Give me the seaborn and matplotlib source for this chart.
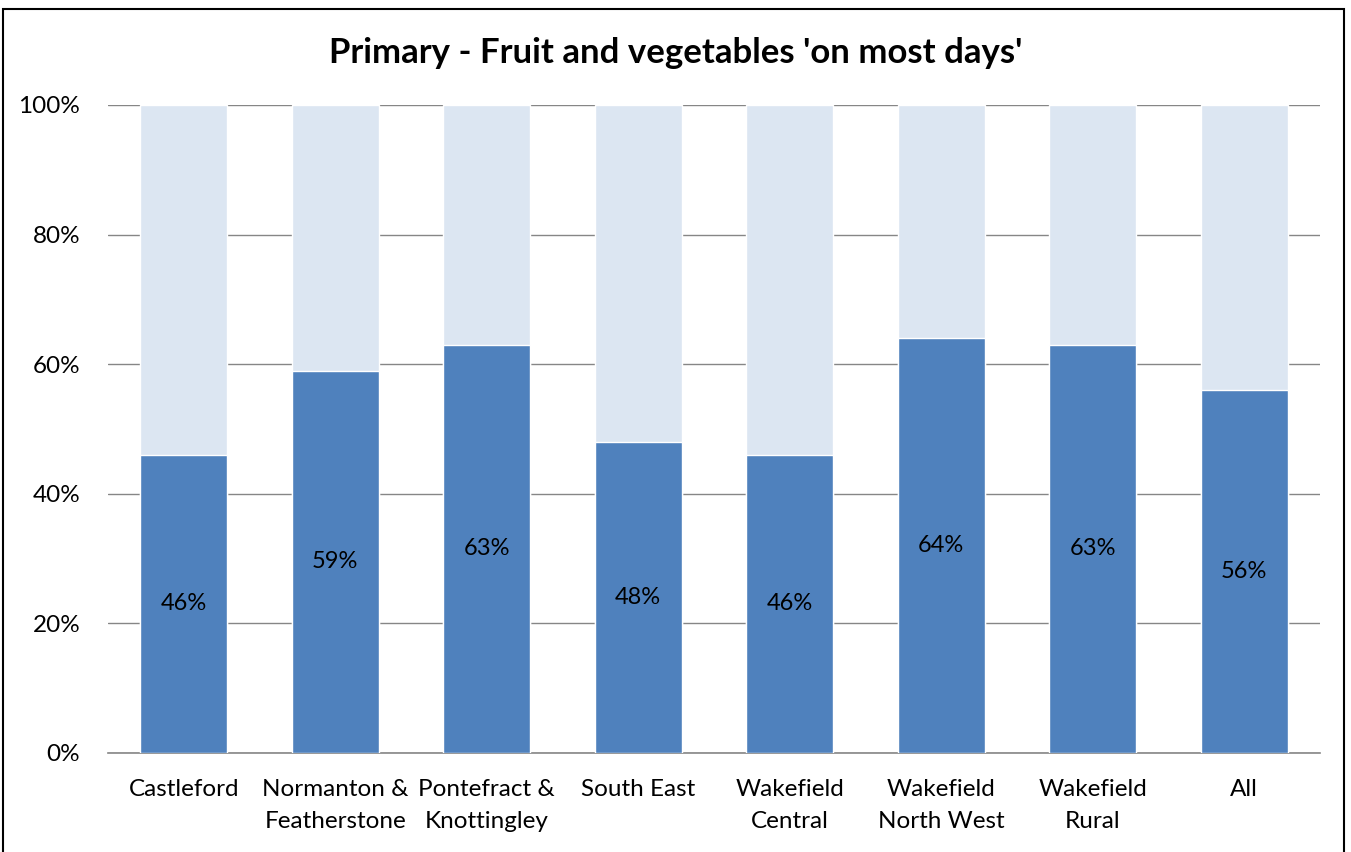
import matplotlib
matplotlib.use("Agg")
import matplotlib.pyplot as plt
import seaborn as sns
import pandas as pd
from matplotlib.patches import Rectangle
from matplotlib.ticker import PercentFormatter

# --- Data ---
areas = ["Castleford", "Normanton &\nFeatherstone", "Pontefract &\nKnottingley",
         "South East", "Wakefield\nCentral", "Wakefield\nNorth West",
         "Wakefield\nRural", "All"]
most_days = [46, 59, 63, 48, 46, 64, 63, 56]
total = [100, 100, 100, 100, 100, 100, 100, 100]

df = pd.DataFrame({"area": areas, "most_days": most_days, "total": total})

sns.set_theme(style="white")
plt.rcParams["font.family"] = ["Lato", "DejaVu Sans"]
plt.rcParams["text.color"] = "black"

fig = plt.figure(figsize=(13.51, 8.52), dpi=100)
ax = fig.add_axes([0.0799, 0.1162, 0.8971, 0.7606])

# background (remainder) then the 'on most days' share
sns.barplot(data=df, x="area", y="total", color="#DCE6F2", saturation=1,
            width=0.575, ax=ax, zorder=2)
sns.barplot(data=df, x="area", y="most_days", color="#4F81BD", saturation=1,
            width=0.575, ax=ax, zorder=3)

for i, v in enumerate(most_days):
    ax.text(i, v / 2, f"{v}%", ha="center", va="center", fontsize=17, color="black", zorder=4)

ax.set_ylim(0, 100)
ax.set_xlim(-0.5, len(areas) - 0.5)
ax.set_yticks(range(0, 101, 20))
ax.yaxis.set_major_formatter(PercentFormatter(decimals=0))
ax.grid(axis="y", color="#868686", linewidth=1, zorder=0)
ax.set_axisbelow(True)
ax.set_xlabel("")
ax.set_ylabel("")
ax.tick_params(axis="both", length=0, labelsize=17.5, colors="black")
ax.tick_params(axis="y", pad=20)
ax.tick_params(axis="x", pad=19)
for lbl in ax.get_xticklabels():
    lbl.set_linespacing(1.6)
for s in ["left", "right", "top"]:
    ax.spines[s].set_visible(False)
ax.spines["bottom"].set_color("#868686")
ax.spines["bottom"].set_linewidth(1.2)

fig.text(0.5, 0.938, "Primary - Fruit and vegetables 'on most days'",
         ha="center", va="center", fontsize=25, fontweight="bold", color="black")

fig.patches.append(Rectangle((0.0025, -0.01), 0.9925, 1.0, transform=fig.transFigure,
                             fill=False, edgecolor="black", linewidth=1.5))

fig.savefig("out.png", dpi=100)
